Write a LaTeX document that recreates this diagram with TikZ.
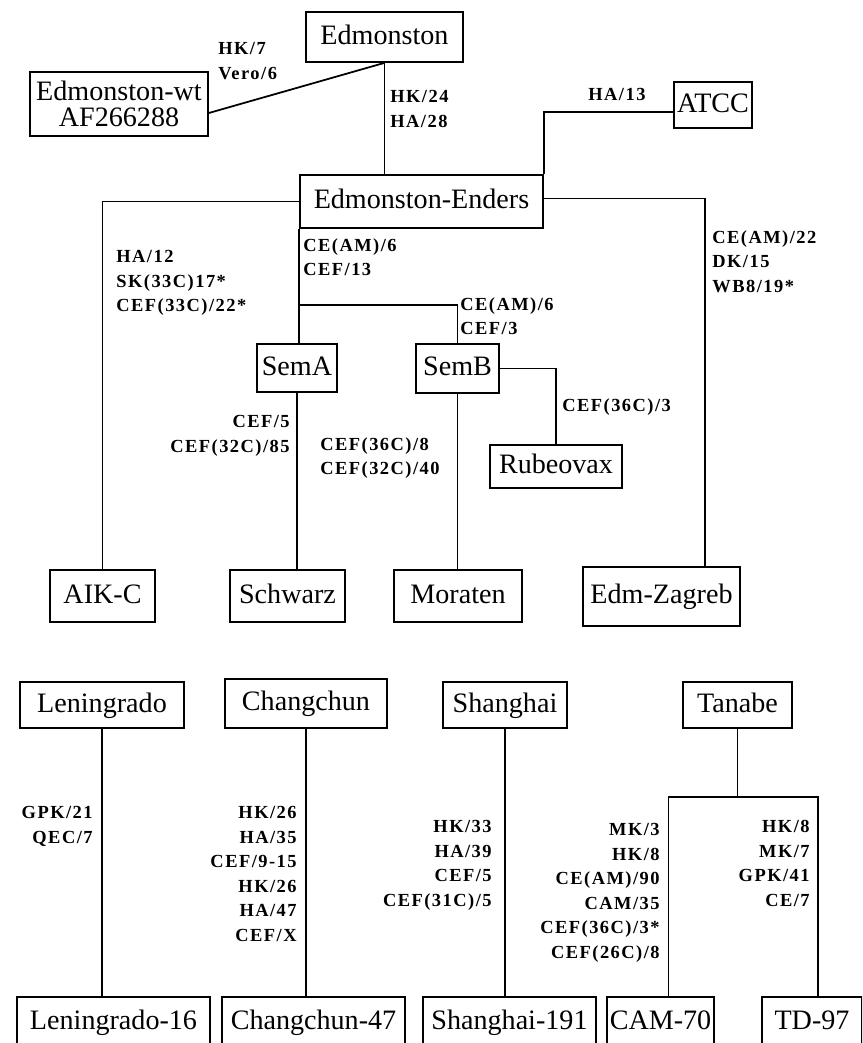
\documentclass[tikz,border=0pt]{standalone}
\usepackage{fontspec}
\setmainfont{Liberation Serif}
\newfontfamily\labfont[LetterSpace=8]{Liberation Serif}
\usetikzlibrary{calc}
\newcommand{\pxu}{0.02cm}
\tikzset{
  boxed/.style={draw, line width=1pt, inner sep=0pt, align=center,
    font=\fontsize{16}{15}\selectfont},
  strain/.style={boxed, text height=11.5pt, text depth=3.5pt},
  lab/.style={inner sep=0pt, font=\labfont\bfseries\fontsize{10.5}{14}\selectfont},
  link/.style={line width=1pt},
}

\begin{document}
\begin{tikzpicture}[x=\pxu, y=-\pxu]
  \useasboundingbox (0,0) rectangle (862,1043);
  \clip (0,0) rectangle (862,1043);

  % Edmonston lineage
  \node[strain, minimum width=157*\pxu, minimum height=50*\pxu] (edm) at (384.5,37) {Edmonston};
  \node[boxed, minimum width=178*\pxu, minimum height=64*\pxu] (edmwt) at (119,104) {Edmonston-wt\\AF266288};
  \node[strain, minimum width=78*\pxu, minimum height=46*\pxu] (atcc) at (713,105) {ATCC};
  \node[strain, minimum width=243*\pxu, minimum height=53*\pxu] (ee) at (421.5,201.5) {Edmonston-Enders};
  \node[strain, minimum width=80*\pxu, minimum height=48*\pxu] (sema) at (297,368) {SemA};
  \node[strain, minimum width=83*\pxu, minimum height=49*\pxu] (semb) at (457.5,368.5) {SemB};
  \node[strain, minimum width=132*\pxu, minimum height=43*\pxu] (rubeo) at (556,466.5) {Rubeovax};
  \node[strain, minimum width=105*\pxu, minimum height=52*\pxu] (aikc) at (102.5,596) {AIK-C};
  \node[strain, minimum width=115*\pxu, minimum height=52*\pxu] (schw) at (287.5,596) {Schwarz};
  \node[strain, minimum width=128*\pxu, minimum height=52*\pxu] (mora) at (458,596) {Moraten};
  \node[strain, minimum width=157*\pxu, minimum height=59*\pxu] (zagr) at (661.5,596.5) {Edm-Zagreb};

  \draw[link] (edm.south) -- ([yshift=-9*\pxu]edmwt.east);
  \draw[link] (edm.south) -- (edm.south |- ee.north);
  \draw[link] ([yshift=-7*\pxu]atcc.west) -| (ee.north east);
  \draw[link] ([yshift=3*\pxu]ee.east) -| ($(zagr.north)!0.55!(zagr.north east)$);
  \draw[link] (ee.west) -| (aikc.north);
  \draw[link] (ee.south west) -- (ee.south west |- sema.north);
  \draw[link] (ee.south west |- 0,305) -| (semb.north);
  \draw[link] (semb.east) -| (rubeo.north);
  \draw[link] (sema.south) -- (sema.south |- schw.north);
  \draw[link] (semb.south) -- (semb.south |- mora.north);

  \node[lab, anchor=north west, align=left] (l1) at (218,42) {HK/7\\Vero/6};
  \node[lab, anchor=north west, align=left] (l2) at (390,90) {HK/24\\HA/28};
  \node[lab, anchor=north west, align=left] (l3) at (588,88) {HA/13};
  \node[lab, anchor=north west, align=left] (l4) at (712,230) {CE(AM)/22\\DK/15\\WB8/19*};
  \node[lab, anchor=north west, align=left] (l5) at (116,250) {HA/12\\SK(33C)17*\\CEF(33C)/22*};
  \node[lab, anchor=north west, align=left] (l6) at (303,238) {CE(AM)/6\\CEF/13};
  \node[lab, anchor=north west, align=left] (l7) at (460,297) {CE(AM)/6\\CEF/3};
  \node[lab, anchor=north east, align=right] (l8) at (290,415) {CEF/5\\CEF(32C)/85};
  \node[lab, anchor=north west, align=left] (l9) at (320,437) {CEF(36C)/8\\CEF(32C)/40};
  \node[lab, anchor=north west, align=left] (l10) at (562,398) {CEF(36C)/3};

  % other lineages
  \node[strain, minimum width=164*\pxu, minimum height=46*\pxu] (len) at (102,705) {Leningrado};
  \node[strain, minimum width=162*\pxu, minimum height=49*\pxu] (chg) at (306,703.5) {Changchun};
  \node[strain, minimum width=124*\pxu, minimum height=46*\pxu] (sha) at (505,705) {Shanghai};
  \node[strain, minimum width=109*\pxu, minimum height=46*\pxu] (tan) at (737.5,705) {Tanabe};
  \node[strain, minimum width=193*\pxu, minimum height=50*\pxu] (len16) at (113.5,1022) {Leningrado-16};
  \node[strain, minimum width=183*\pxu, minimum height=50*\pxu] (chg47) at (313.5,1022) {Changchun-47};
  \node[strain, minimum width=173*\pxu, minimum height=50*\pxu] (sha191) at (509.5,1022) {Shanghai-191};
  \node[strain, minimum width=107*\pxu, minimum height=50*\pxu] (cam70) at (660.5,1022) {CAM-70};
  \node[strain, minimum width=100*\pxu, minimum height=50*\pxu] (td97) at (812,1022) {TD-97};

  \draw[link] (len.south) -- (len.south |- len16.north);
  \draw[link] (chg.south) -- (chg.south |- chg47.north);
  \draw[link] (sha.south) -- (sha.south |- sha191.north);
  \coordinate (fork) at (tan.south |- 0,797);
  \draw[link] (tan.south) -- (fork);
  \draw[link] ([xshift=8*\pxu]cam70.north) |- (fork) -| ([xshift=6*\pxu]td97.north);

  \node[lab, anchor=north east, align=right] (b1) at (93,806) {GPK/21\\QEC/7};
  \node[lab, anchor=north east, align=right] (b2) at (297,806) {HK/26\\HA/35\\CEF/9-15\\HK/26\\HA/47\\CEF/X};
  \node[lab, anchor=north east, align=right] (b3) at (492,820) {HK/33\\HA/39\\CEF/5\\CEF(31C)/5};
  \node[lab, anchor=north east, align=right] (b4) at (660,823) {MK/3\\HK/8\\CE(AM)/90\\CAM/35\\CEF(36C)/3*\\CEF(26C)/8};
  \node[lab, anchor=north east, align=right] (b5) at (810,820) {HK/8\\MK/7\\GPK/41\\CE/7};
\end{tikzpicture}
\end{document}
